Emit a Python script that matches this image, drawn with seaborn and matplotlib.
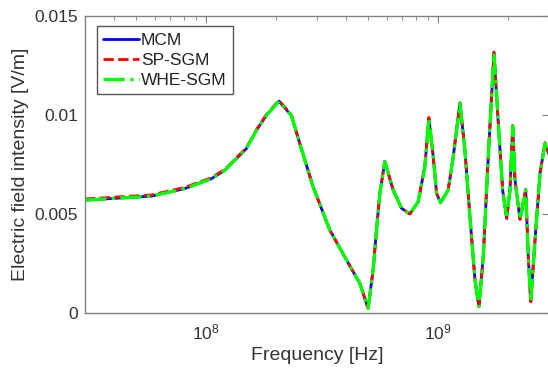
import numpy as np
import pandas as pd
import seaborn as sns
import matplotlib.pyplot as plt
from matplotlib.ticker import FuncFormatter

sns.set_style("white")
plt.rcParams['font.family'] = ['Liberation Sans', 'DejaVu Sans']
plt.rcParams['mathtext.fontset'] = 'custom'
plt.rcParams['mathtext.rm'] = 'Liberation Sans'
plt.rcParams['mathtext.default'] = 'regular'

# frequency points [Hz]
freq = [3.0e7, 4.15e7, 5.79e7, 8.06e7, 1.051e8, 1.20e8, 1.325e8, 1.488e8, 1.644e8, 1.815e8,
        2.057e8, 2.327e8, 2.527e8, 2.885e8, 3.406e8, 4.02e8, 4.587e8, 4.983e8, 5.236e8, 5.416e8,
        5.597e8, 5.882e8, 6.389e8, 6.944e8, 7.54e8, 8.19e8, 8.75e8, 9.11e8, 9.51e8, 9.83e8,
        1.023e9, 1.103e9, 1.16e9, 1.24e9, 1.302e9, 1.369e9, 1.439e9, 1.497e9, 1.562e9, 1.642e9,
        1.738e9, 1.814e9, 1.894e9, 1.972e9, 2.037e9, 2.093e9, 2.141e9, 2.25e9, 2.381e9, 2.443e9,
        2.503e9, 2.612e9, 2.745e9, 2.884e9, 3.0e9]

mcm = [0.00570, 0.00580, 0.00590, 0.00628, 0.00678, 0.00720, 0.00771, 0.00830, 0.00922, 0.00998,
       0.01070, 0.00998, 0.00857, 0.00638, 0.00419, 0.00268, 0.00150, 0.00024, 0.00217, 0.00419,
       0.00604, 0.00764, 0.00621, 0.00529, 0.00500, 0.00562, 0.00739, 0.00983, 0.00790, 0.00604,
       0.00557, 0.00621, 0.00790, 0.01059, 0.00823, 0.00486, 0.00167, 0.00032, 0.00284, 0.00790,
       0.01312, 0.00958, 0.00621, 0.00478, 0.00621, 0.00944, 0.00672, 0.00473, 0.00621, 0.00284,
       0.00057, 0.00369, 0.00706, 0.00857, 0.00800]

sp_sgm = [0.00576, 0.00586, 0.00596, 0.00634, 0.00683, 0.00725, 0.00775, 0.00834, 0.00926, 0.01002,
          0.01074, 0.01000, 0.00857, 0.00638, 0.00419, 0.00268, 0.00150, 0.00024, 0.00217, 0.00419,
          0.00604, 0.00766, 0.00621, 0.00529, 0.00500, 0.00562, 0.00739, 0.00988, 0.00790, 0.00604,
          0.00557, 0.00621, 0.00790, 0.01062, 0.00823, 0.00486, 0.00167, 0.00032, 0.00284, 0.00790,
          0.01318, 0.00958, 0.00621, 0.00478, 0.00621, 0.00948, 0.00672, 0.00473, 0.00625, 0.00284,
          0.00057, 0.00369, 0.00706, 0.00860, 0.00800]

whe_sgm = list(mcm)

fig = plt.figure(figsize=(5.48, 3.73), dpi=100)
ax = fig.add_axes([0.1551, 0.1609, 0.8467, 0.7962])

sns.lineplot(x=freq, y=mcm, ax=ax, color='#0000ff', linewidth=2, label='MCM')
sns.lineplot(x=freq, y=sp_sgm, ax=ax, color='#ff0000', linewidth=2, linestyle='--', label='SP-SGM')
sns.lineplot(x=freq, y=whe_sgm, ax=ax, color='#00ff00', linewidth=2.4, linestyle='-.', label='WHE-SGM')

ax.set_xscale('log')
ax.set_xlim(3e7, 3e9)
ax.set_ylim(0, 0.015)
ax.set_yticks([0, 0.005, 0.01, 0.015])
ax.yaxis.set_major_formatter(FuncFormatter(lambda v, p: '%g' % v))
ax.set_xticks([1e8, 1e9])

for s in ax.spines.values():
    s.set_color('#808080')
    s.set_linewidth(1)
ax.tick_params(which='both', direction='in', top=True, right=True, colors='#808080',
               labelcolor='#333333', labelsize=12.5)
ax.tick_params(which='major', length=5, pad=5)
ax.tick_params(which='minor', length=3)
ax.tick_params(axis='x', which='major', pad=7)

ax.set_xlabel('Frequency [Hz]', fontsize=14, color='#333333', labelpad=3)
ax.set_ylabel('Electric field intensity [V/m]', fontsize=14, color='#333333', labelpad=4)

leg = ax.legend(loc='upper left', bbox_to_anchor=(0.025, 0.965), fontsize=12.5, frameon=True,
                fancybox=False, framealpha=1, edgecolor='#555555', handlelength=2.1,
                handletextpad=0.1, borderpad=0.35, labelspacing=0.3, borderaxespad=0)
leg.get_frame().set_linewidth(1)
for t in leg.get_texts():
    t.set_color('#222222')

fig.savefig('out.png', dpi=100)
